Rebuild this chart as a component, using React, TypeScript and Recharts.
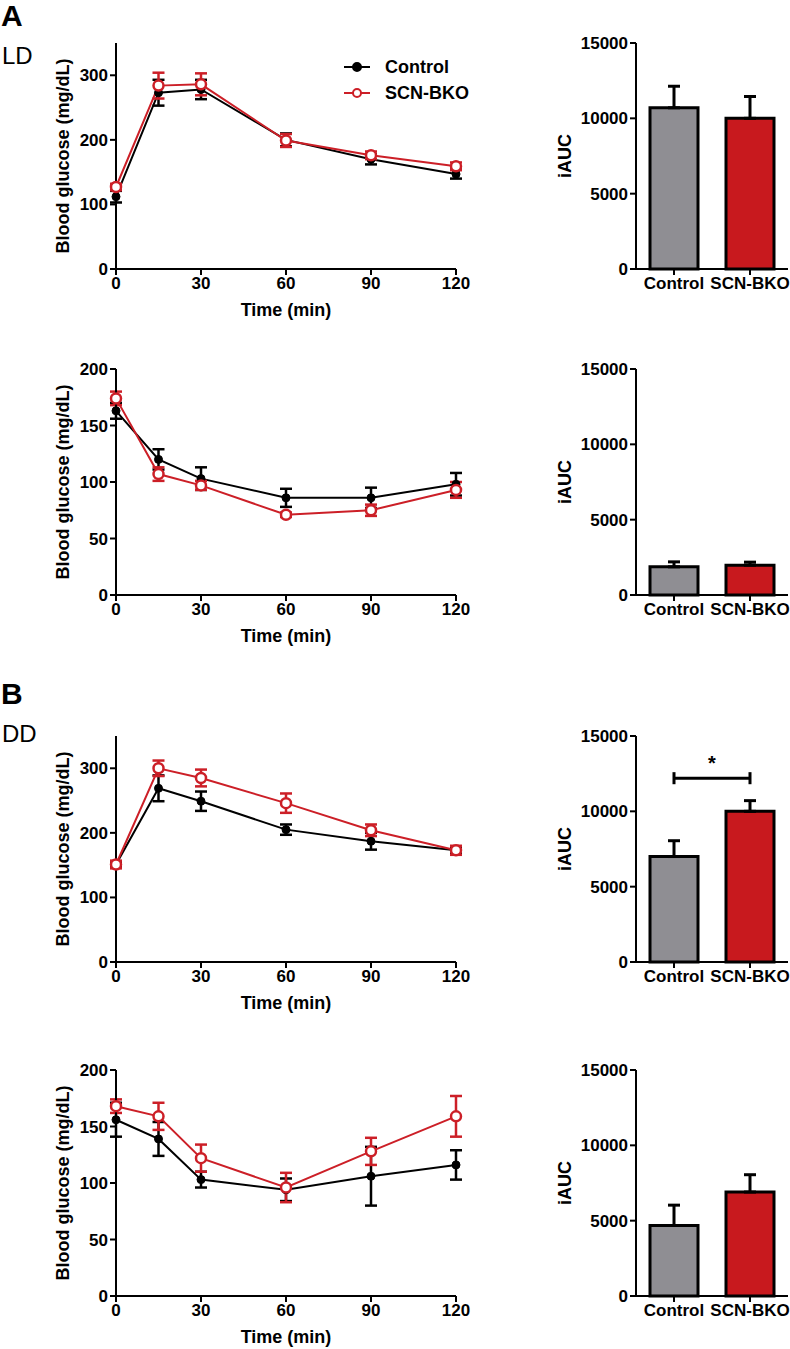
import React from 'react';
import {
  LineChart,
  Line,
  XAxis,
  YAxis,
  ErrorBar,
  BarChart,
  Bar,
  Cell,
  Legend,
  ReferenceLine,
} from 'recharts';

// sampling times (min)
const times = [0, 15, 30, 60, 90, 120];
const timeTicks = [0, 30, 60, 90, 120];

// LD – glucose tolerance
const ldGttControl = [112, 273, 278, 200, 170, 147];
const ldGttControlSem = [9, 20, 15, 10, 8, 7];
const ldGttBko = [127, 284, 286, 199, 176, 159];
const ldGttBkoSem = [5, 20, 17, 10, 6, 6];

// LD – insulin tolerance
const ldIttControl = [163, 120, 103, 86, 86, 98];
const ldIttControlSem = [7, 9, 10, 8, 9, 10];
const ldIttBko = [174, 107, 97, 71, 75, 93];
const ldIttBkoSem = [6, 6, 4, 2, 5, 7];

// DD – glucose tolerance
const ddGttControl = [151, 269, 249, 205, 187, 173];
const ddGttControlSem = [4, 20, 15, 8, 13, 5];
const ddGttBko = [151, 300, 285, 246, 204, 173];
const ddGttBkoSem = [6, 12, 13, 15, 9, 7];

// DD – insulin tolerance
const ddIttControl = [156, 139, 103, 94, 106, 116];
const ddIttControlSem = [15, 15, 7, 10, 26, 13];
const ddIttBko = [168, 159, 122, 96, 128, 159];
const ddIttBkoSem = [6, 12, 12, 13, 12, 18];

// iAUC bars
const groups = ['Control', 'SCN-BKO'];
const ldGttAuc = [10700, 10000];
const ldGttAucSem = [1430, 1450];
const ldIttAuc = [1870, 1980];
const ldIttAucSem = [330, 200];
const ddGttAuc = [7000, 10000];
const ddGttAucSem = [1050, 710];
const ddIttAuc = [4680, 6900];
const ddIttAucSem = [1350, 1150];

const ddGttSigLevel = 12200;

const glucoseTicksHigh = [0, 100, 200, 300];
const glucoseTicksLow = [0, 50, 100, 150, 200];
const aucTicks = [0, 5000, 10000, 15000];

const FONT = '"Liberation Sans", Arial, Helvetica, sans-serif';
const BLACK = '#000000';
const RED = '#cc1f27';
const GRAY = '#8f8e93';
const BAR_RED = '#c8191e';
const barColors = [GRAY, BAR_RED];

const tickStyle = { fill: BLACK, fontSize: 17, fontWeight: 700, fontFamily: FONT };
const axisStroke = { stroke: BLACK, strokeWidth: 2 };

function buildCurve(ctrl: number[], ctrlSem: number[], bko: number[], bkoSem: number[]) {
  return times.map((t, i) => ({
    t,
    ctrl: ctrl[i],
    ctrlSem: ctrlSem[i],
    bko: bko[i],
    bkoSem: bkoSem[i],
  }));
}

function buildBars(vals: number[], sems: number[]) {
  return groups.map((g, i) => ({ group: g, auc: vals[i], sem: [0, sems[i]] }));
}

const LegendBox = () => (
  <div style={{ fontFamily: FONT, fontWeight: 700, fontSize: 18, color: BLACK }}>
    {[
      { name: 'Control', color: BLACK, fill: BLACK },
      { name: 'SCN-BKO', color: RED, fill: '#ffffff' },
    ].map((s) => (
      <div key={s.name} style={{ display: 'flex', alignItems: 'center', height: 26 }}>
        <svg width={28} height={14} style={{ marginRight: 14 }}>
          <line x1={1} y1={7} x2={27} y2={7} stroke={s.color} strokeWidth={2} />
          <circle cx={14} cy={7} r={4} fill={s.fill} stroke={s.color} strokeWidth={2} />
        </svg>
        <span>{s.name}</span>
      </div>
    ))}
  </div>
);

type GlucoseProps = {
  data: ReturnType<typeof buildCurve>;
  yMax: number;
  yTicks: number[];
  legend?: boolean;
};

function GlucoseChart({ data, yMax, yTicks, legend }: GlucoseProps) {
  return (
    <LineChart width={480} height={292} data={data} margin={{ top: 10, right: 24, bottom: 0, left: 10 }}>
      <XAxis
        dataKey="t"
        type="number"
        domain={[0, 120]}
        ticks={timeTicks}
        height={56}
        tickSize={6}
        axisLine={axisStroke}
        tickLine={axisStroke}
        tick={tickStyle}
        label={{ value: 'Time (min)', position: 'insideBottom', offset: 9, fill: BLACK, fontSize: 18, fontWeight: 700, fontFamily: FONT }}
      />
      <YAxis
        type="number"
        domain={[0, yMax]}
        ticks={yTicks}
        width={106}
        tickSize={6}
        axisLine={axisStroke}
        tickLine={axisStroke}
        tick={tickStyle}
        label={{ value: 'Blood glucose (mg/dL)', angle: -90, position: 'center', fill: BLACK, fontSize: 18, fontWeight: 700, fontFamily: FONT }}
      />
      {legend && (
        <Legend
          layout="vertical"
          align="center"
          verticalAlign="middle"
          content={() => <LegendBox />}
          wrapperStyle={{ left: 343, top: 21, width: 140 }}
        />
      )}
      <Line
        dataKey="ctrl"
        name="Control"
        stroke={BLACK}
        strokeWidth={2}
        dot={{ r: 4, fill: BLACK, stroke: BLACK, strokeWidth: 1 }}
        activeDot={false}
        isAnimationActive={false}
      >
        <ErrorBar dataKey="ctrlSem" direction="y" width={6} strokeWidth={2.5} stroke={BLACK} isAnimationActive={false} />
      </Line>
      <Line
        dataKey="bko"
        name="SCN-BKO"
        stroke={RED}
        strokeWidth={2}
        dot={{ r: 5, fill: '#ffffff', stroke: RED, strokeWidth: 2.5 }}
        activeDot={false}
        isAnimationActive={false}
      >
        <ErrorBar dataKey="bkoSem" direction="y" width={6} strokeWidth={2.5} stroke={RED} isAnimationActive={false} />
      </Line>
    </LineChart>
  );
}

type AucProps = {
  data: ReturnType<typeof buildBars>;
  sigLevel?: number;
};

function AucChart({ data, sigLevel }: AucProps) {
  return (
    <BarChart width={296} height={292} data={data} margin={{ top: 10, right: 2, bottom: 0, left: 0 }}>
      <XAxis
        dataKey="group"
        height={56}
        tickSize={6}
        axisLine={axisStroke}
        tickLine={axisStroke}
        tick={tickStyle}
        interval={0}
      />
      <YAxis
        type="number"
        domain={[0, 15000]}
        ticks={aucTicks}
        width={142}
        tickSize={6}
        axisLine={axisStroke}
        tickLine={axisStroke}
        tick={tickStyle}
        label={{ value: 'iAUC', angle: -90, position: 'center', fill: BLACK, fontSize: 18, fontWeight: 700, fontFamily: FONT }}
      />
      <Bar dataKey="auc" barSize={48} stroke={BLACK} strokeWidth={3} isAnimationActive={false}>
        {data.map((d, i) => (
          <Cell key={d.group} fill={barColors[i]} />
        ))}
        <ErrorBar dataKey="sem" direction="y" width={6} strokeWidth={3} stroke={BLACK} isAnimationActive={false} />
      </Bar>
      {sigLevel !== undefined && (
        <ReferenceLine
          segment={[
            { x: groups[0], y: sigLevel },
            { x: groups[1], y: sigLevel },
          ]}
          stroke={BLACK}
          strokeWidth={3}
          label={{ value: '*', position: 'top', offset: 8, fill: BLACK, fontSize: 20, fontWeight: 700, fontFamily: FONT }}
        />
      )}
      {sigLevel !== undefined &&
        groups.map((g) => (
          <ReferenceLine
            key={g}
            segment={[
              { x: g, y: sigLevel - 400 },
              { x: g, y: sigLevel + 400 },
            ]}
            stroke={BLACK}
            strokeWidth={3}
          />
        ))}
    </BarChart>
  );
}

const rows = [
  {
    top: 33,
    curve: buildCurve(ldGttControl, ldGttControlSem, ldGttBko, ldGttBkoSem),
    yMax: 350,
    yTicks: glucoseTicksHigh,
    bars: buildBars(ldGttAuc, ldGttAucSem),
    legend: true,
  },
  {
    top: 359,
    curve: buildCurve(ldIttControl, ldIttControlSem, ldIttBko, ldIttBkoSem),
    yMax: 200,
    yTicks: glucoseTicksLow,
    bars: buildBars(ldIttAuc, ldIttAucSem),
  },
  {
    top: 726,
    curve: buildCurve(ddGttControl, ddGttControlSem, ddGttBko, ddGttBkoSem),
    yMax: 350,
    yTicks: glucoseTicksHigh,
    bars: buildBars(ddGttAuc, ddGttAucSem),
    sig: ddGttSigLevel,
  },
  {
    top: 1060,
    curve: buildCurve(ddIttControl, ddIttControlSem, ddIttBko, ddIttBkoSem),
    yMax: 200,
    yTicks: glucoseTicksLow,
    bars: buildBars(ddIttAuc, ddIttAucSem),
  },
];

const letterStyle: React.CSSProperties = {
  position: 'absolute',
  fontFamily: FONT,
  lineHeight: 1,
  color: BLACK,
};

export default function App() {
  return (
    <div
      style={{
        position: 'absolute',
        left: 0,
        top: 0,
        width: 790,
        height: 1349,
        background: '#ffffff',
        fontFamily: FONT,
        overflow: 'hidden',
      }}
    >
      <div style={{ ...letterStyle, left: 1, top: 1, fontSize: 30, fontWeight: 700 }}>A</div>
      <div style={{ ...letterStyle, left: 2, top: 44, fontSize: 24 }}>LD</div>
      <div style={{ ...letterStyle, left: 1, top: 679, fontSize: 30, fontWeight: 700 }}>B</div>
      <div style={{ ...letterStyle, left: 2, top: 722, fontSize: 24 }}>DD</div>
      {rows.map((r, i) => (
        <React.Fragment key={i}>
          <div style={{ position: 'absolute', left: 0, top: r.top }}>
            <GlucoseChart data={r.curve} yMax={r.yMax} yTicks={r.yTicks} legend={r.legend} />
          </div>
          <div style={{ position: 'absolute', left: 494, top: r.top }}>
            <AucChart data={r.bars} sigLevel={r.sig} />
          </div>
        </React.Fragment>
      ))}
    </div>
  );
}
